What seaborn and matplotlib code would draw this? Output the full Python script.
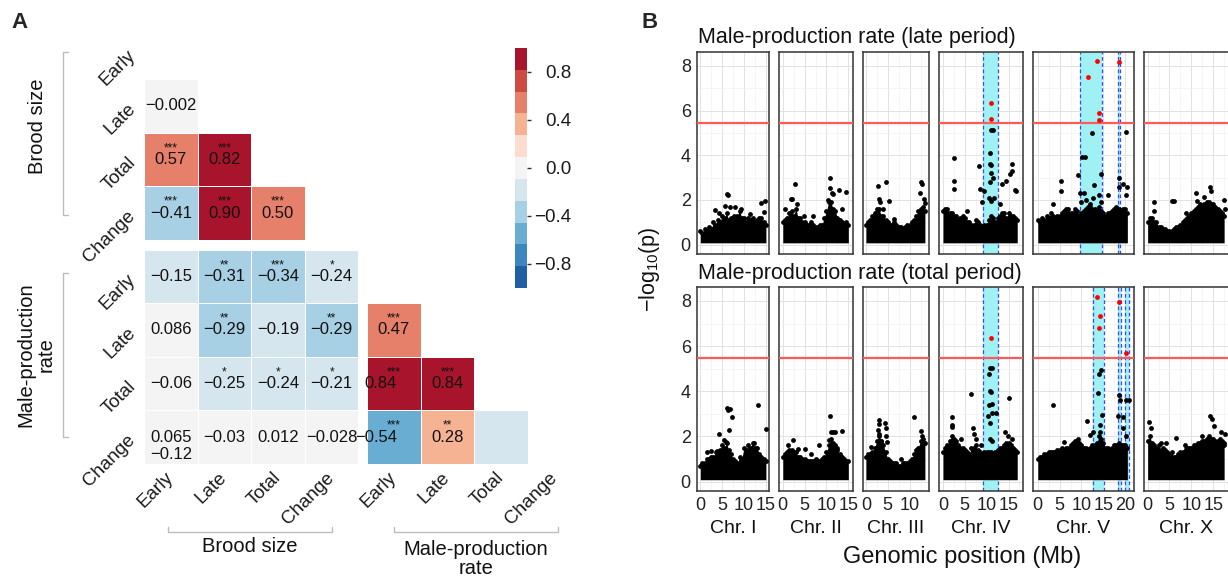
import numpy as np
import pandas as pd
import seaborn as sns
import matplotlib.pyplot as plt
from matplotlib.colors import ListedColormap
from matplotlib.ticker import MultipleLocator

# ---------------- panel A : trait correlations ----------------
traits = ['Early', 'Late', 'Total', 'Change']

brood_brood = [[np.nan, np.nan, np.nan, np.nan],
               [-0.002, np.nan, np.nan, np.nan],
               [0.57, 0.82, np.nan, np.nan],
               [-0.41, 0.90, 0.50, np.nan]]
brood_brood_sig = [['', '', '', ''],
                   ['', '', '', ''],
                   ['***', '***', '', ''],
                   ['***', '***', '***', '']]

mpr_brood = [[-0.15, -0.31, -0.34, -0.24],
             [0.086, -0.29, -0.19, -0.29],
             [-0.06, -0.25, -0.24, -0.21],
             [0.065, -0.03, 0.012, -0.028]]
mpr_brood_sig = [['', '**', '***', '*'],
                 ['', '**', '', '**'],
                 ['', '*', '*', '*'],
                 ['', '', '', '']]

mpr_mpr = [[np.nan, np.nan, np.nan, np.nan],
           [0.47, np.nan, np.nan, np.nan],
           [0.84, 0.84, np.nan, np.nan],
           [-0.54, 0.28, -0.12, np.nan]]
mpr_mpr_sig = [['', '', '', ''],
               ['***', '', '', ''],
               ['***', '***', '', ''],
               ['***', '**', '', '']]

cbar_ticks = [-0.8, -0.4, 0.0, 0.4, 0.8]

# ---------------- panel B : GWAS scans ----------------
chrom_names = ['I', 'II', 'III', 'IV', 'V', 'X']
chrom_len = [15.07, 15.28, 13.78, 17.49, 20.92, 17.72]
threshold = 5.46

# top of the dense cloud of SNPs, one value every 0.5 Mb
late_cloud = [
    [0.6, 0.5, 0.7, 0.6, 0.8, 0.7, 1.0, 0.9, 1.1, 1.0, 1.3, 1.2, 1.4, 1.1, 1.2, 1.0, 1.1, 1.3, 1.5, 1.2,
     1.2, 1.0, 1.2, 1.1, 1.2, 1.0, 1.1, 1.2, 1.2, 1.0, 0.9],
    [1.0, 1.1, 1.2, 1.4, 1.5, 1.3, 1.6, 1.2, 1.2, 1.0, 1.0, 0.9, 0.9, 1.0, 0.9, 0.8, 0.8, 0.9, 0.9, 1.2,
     1.5, 1.9, 1.9, 1.6, 1.5, 1.2, 1.1, 1.0, 0.9, 1.0, 0.9],
    [0.9, 1.0, 1.1, 1.3, 1.4, 1.6, 1.6, 1.3, 1.3, 1.1, 1.0, 0.9, 0.9, 1.0, 0.9, 0.8, 0.8, 0.7, 0.8, 0.9,
     0.9, 1.0, 1.1, 1.3, 1.5, 1.6, 1.7, 1.5],
    [1.5, 1.6, 1.6, 1.4, 1.4, 1.3, 1.3, 1.1, 1.2, 1.3, 1.2, 1.0, 1.0, 0.9, 0.9, 1.1, 1.0, 0.9, 0.8, 0.9,
     0.9, 1.1, 1.3, 1.2, 1.0, 1.2, 1.3, 1.4, 1.4, 1.2, 1.4, 1.3, 1.3, 1.2, 1.1],
    [1.1, 1.0, 1.2, 1.1, 1.3, 1.2, 1.4, 1.3, 1.2, 1.3, 1.3, 1.4, 1.5, 1.6, 1.6, 1.4, 1.4, 1.6, 1.5, 1.3,
     1.4, 1.5, 1.6, 1.7, 1.8, 1.6, 1.6, 1.5, 1.7, 1.5, 1.4, 1.3, 1.4, 1.4, 1.5, 1.6, 1.7, 1.6, 1.5, 1.6,
     1.6, 1.4],
    [1.0, 1.2, 1.2, 1.0, 1.0, 0.8, 0.8, 0.7, 0.7, 0.6, 0.6, 0.6, 0.7, 0.8, 0.8, 0.9, 1.0, 1.1, 1.2, 1.3,
     1.4, 1.5, 1.6, 1.7, 1.8, 1.7, 1.8, 1.9, 1.9, 1.8, 1.8, 1.7, 1.6, 1.5, 1.4, 1.3],
]
total_cloud = [
    [0.7, 0.8, 0.8, 1.0, 1.0, 1.1, 1.1, 1.3, 1.3, 1.4, 1.6, 1.5, 1.7, 1.4, 1.2, 1.0, 0.9, 0.8, 1.1, 1.0,
     1.5, 1.4, 1.6, 1.5, 1.7, 1.5, 1.5, 1.2, 1.1, 1.0, 0.9],
    [1.1, 1.2, 1.3, 1.4, 1.4, 1.3, 1.3, 1.1, 1.1, 1.0, 1.0, 0.9, 0.9, 0.9, 0.9, 1.0, 0.9, 0.9, 1.0, 1.1,
     1.3, 1.6, 1.9, 1.7, 1.6, 1.4, 1.2, 1.1, 1.0, 0.9, 0.9],
    [1.1, 1.2, 1.2, 1.3, 1.5, 1.8, 2.0, 1.8, 1.6, 1.3, 1.0, 0.9, 0.8, 0.8, 0.8, 0.7, 0.7, 0.8, 0.8, 0.8,
     0.9, 1.0, 1.2, 1.4, 1.5, 1.8, 1.9, 1.7],
    [1.3, 1.5, 1.6, 1.8, 2.0, 1.9, 1.8, 1.6, 1.5, 1.5, 1.4, 1.3, 1.2, 1.5, 1.5, 1.6, 1.4, 1.3, 1.2, 1.3,
     1.3, 1.3, 1.3, 1.2, 1.3, 1.4, 1.5, 1.5, 1.6, 1.7, 1.7, 1.6, 1.5, 1.4, 1.3],
    [1.0, 1.1, 1.1, 1.2, 1.2, 1.3, 1.3, 1.3, 1.3, 1.4, 1.4, 1.5, 1.4, 1.5, 1.5, 1.6, 1.7, 1.8, 1.8, 1.7,
     1.6, 1.5, 1.5, 1.4, 1.5, 1.6, 1.6, 1.7, 2.0, 1.9, 1.7, 1.5, 1.5, 1.4, 1.5, 1.6, 1.6, 1.7, 1.6, 1.6,
     1.6, 1.5],
    [1.8, 2.0, 1.7, 1.6, 1.5, 1.6, 1.4, 1.5, 1.4, 1.3, 1.2, 1.3, 1.1, 1.1, 1.2, 1.3, 1.3, 1.6, 1.4, 1.5,
     1.5, 1.6, 1.6, 1.7, 1.7, 1.8, 1.8, 1.9, 2.0, 1.9, 1.9, 1.8, 1.8, 1.9, 1.8, 1.7],
]

# isolated SNPs above the cloud (position Mb, -log10 p)
late_spots = [
    [(6.1, 2.25), (6.4, 2.2), (5.6, 1.75), (6.8, 1.7), (3.4, 1.55), (9.4, 1.6), (13.8, 1.85),
     (14.9, 1.95), (14.5, 1.45), (7.8, 1.3), (11.3, 1.35), (8.0, 1.7), (4.3, 1.4)],
    [(2.8, 2.7), (1.8, 2.05), (2.2, 2.05), (3.3, 1.8), (0.6, 1.6), (10.9, 3.0), (10.7, 2.55),
     (11.2, 2.3), (11.5, 2.25), (12.9, 2.45), (14.5, 2.35), (4.8, 1.3), (7.0, 1.3), (13.5, 1.6), (10.4, 2.0)],
    [(2.7, 2.63), (4.6, 2.8), (2.9, 2.05), (3.2, 1.9), (5.2, 1.96), (4.0, 1.6), (12.6, 2.8),
     (12.8, 2.7), (13.2, 2.05), (13.5, 1.85), (12.4, 2.3), (6.5, 1.15)],
    [(2.6, 3.87), (2.6, 2.85), (2.6, 2.5), (8.3, 3.5), (8.5, 2.5), (10.9, 5.15), (11.4, 5.15),
     (10.7, 4.1), (10.7, 3.6), (11.1, 3.55), (11.0, 3.2), (11.5, 2.97), (10.8, 2.8), (10.6, 2.1),
     (11.6, 2.1), (10.9, 1.95), (15.7, 3.6), (15.7, 3.3), (15.4, 3.15), (16.4, 2.43), (16.8, 2.4),
     (14.4, 2.83), (13.6, 2.7), (9.3, 2.4), (8.9, 1.9), (5.5, 1.5), (13.0, 1.8)],
    [(5.3, 2.86), (5.3, 2.38), (3.4, 1.8), (9.2, 3.1), (10.2, 3.9), (10.8, 3.9), (12.3, 4.98),
     (9.7, 2.3), (14.5, 3.15), (14.0, 2.2), (12.8, 2.68), (12.7, 2.1), (14.5, 1.9), (16.1, 2.2),
     (18.6, 3.0), (18.6, 2.6), (19.5, 2.7), (20.5, 2.6), (20.2, 5.03), (20.2, 2.2), (11.0, 2.0),
     (12.0, 1.7), (10.0, 1.9), (10.6, 2.3)],
    [(1.5, 1.9), (5.5, 1.93), (6.1, 1.93), (11.0, 2.3), (12.9, 2.15), (14.2, 2.6), (14.6, 2.4),
     (17.4, 2.0), (15.9, 1.5), (11.4, 1.93), (8.7, 1.4), (17.8, 1.6), (1.4, 1.5)],
]
total_spots = [
    [(6.0, 3.24), (6.3, 3.15), (6.8, 3.22), (7.3, 2.84), (6.6, 2.28), (4.3, 2.1), (5.5, 1.85),
     (5.9, 1.75), (13.2, 3.4), (15.0, 2.33), (12.2, 1.7), (2.5, 1.35), (1.5, 1.3), (3.8, 1.35)],
    [(2.3, 1.84), (1.3, 1.6), (3.5, 1.45), (5.0, 1.45), (8.4, 1.62), (10.9, 2.9), (11.0, 2.2),
     (11.4, 2.2), (11.9, 2.2), (13.6, 2.24), (10.6, 1.85), (12.5, 1.5), (6.5, 1.2)],
    [(2.9, 2.72), (3.1, 2.55), (2.7, 2.3), (2.9, 2.1), (4.3, 2.6), (4.6, 2.35), (4.5, 2.0),
     (4.9, 1.75), (3.4, 1.8), (10.9, 2.84), (12.6, 2.25), (12.9, 2.0), (13.2, 1.7), (12.3, 1.5),
     (8.0, 1.0), (1.2, 1.55)],
    [(2.0, 2.87), (2.1, 2.5), (2.0, 2.4), (4.2, 1.9), (6.4, 3.9), (6.8, 2.35), (7.1, 2.1), (7.6, 1.9),
     (10.8, 5.05), (11.2, 5.05), (10.5, 4.75), (10.8, 4.0), (11.0, 3.97), (10.6, 3.4), (11.2, 3.44),
     (11.3, 3.05), (12.2, 3.05), (10.4, 2.9), (10.8, 2.6), (10.8, 1.9), (11.2, 1.8), (15.0, 3.68),
     (14.3, 2.2), (14.8, 2.0), (15.8, 1.9), (8.8, 1.6)],
    [(3.4, 3.4), (11.2, 2.69), (13.7, 3.93), (14.0, 4.75), (14.4, 4.95), (14.3, 2.5), (14.6, 2.97),
     (14.2, 2.2), (11.9, 2.05), (18.6, 3.83), (18.9, 3.6), (19.4, 2.84), (20.8, 3.6), (20.2, 3.6),
     (18.3, 2.9), (19.5, 2.35), (20.1, 2.0), (9.2, 1.9), (6.0, 1.75), (12.6, 2.2)],
    [(0.2, 2.65), (0.8, 2.35), (6.4, 1.95), (9.1, 1.5), (14.2, 2.9), (14.8, 2.75), (15.2, 2.45),
     (16.7, 2.2), (17.6, 2.1), (17.4, 1.6), (3.0, 1.7), (4.3, 1.7), (12.5, 2.0)],
]

# SNPs above the genome-wide threshold
late_sig_chr = ['IV', 'IV', 'V', 'V', 'V', 'V', 'V']
late_sig_pos = [10.9, 10.9, 13.6, 11.4, 13.9, 14.1, 18.6]
late_sig_val = [6.32, 5.61, 8.21, 7.49, 5.91, 5.58, 8.18]
total_sig_chr = ['IV', 'V', 'V', 'V', 'V', 'V']
total_sig_pos = [10.9, 13.6, 14.2, 13.9, 18.6, 20.2]
total_sig_val = [6.35, 8.18, 7.35, 6.81, 7.96, 5.69]

# QTL intervals
late_band_chr = ['IV', 'V', 'V']
late_band_start = [9.05, 9.55, 18.3]
late_band_end = [12.7, 14.77, 18.9]
total_band_chr = ['IV', 'V', 'V', 'V']
total_band_start = [9.05, 12.65, 18.3, 19.9]
total_band_end = [12.7, 15.1, 19.0, 20.8]

# ---------------- style ----------------
sns.set_theme(style='white')
plt.rcParams['font.family'] = ['Liberation Sans', 'DejaVu Sans']
plt.rcParams['mathtext.fontset'] = 'custom'
plt.rcParams['mathtext.rm'] = 'Liberation Sans'
plt.rcParams['mathtext.default'] = 'regular'

W, H = 1228, 577
fig = plt.figure(figsize=(W / 100, H / 100), dpi=100)
fig.patch.set_facecolor('white')


def px_box(x0, y0, x1, y1):
    return [x0 / W, 1 - y1 / H, (x1 - x0) / W, (y1 - y0) / H]


cmap = ListedColormap(['#1f5fa4', '#3c87be', '#6aadd2', '#a8d0e4', '#d6e6ef', '#f4f4f4',
                       '#fbdccd', '#f6b394', '#e6806a', '#cc4c44', '#a8142b'])


def fmt(v):
    s = f'{v:.2f}' if abs(v) >= 0.1 else f'{v:g}'
    return s.replace('-', '\u2212')


def corr_block(ax, values, sig, show_x, show_y, cax=None, shift=None, skip=()):
    df = pd.DataFrame(values, index=traits, columns=traits)
    sns.heatmap(df, ax=ax, cmap=cmap, vmin=-1, vmax=1, cbar=cax is not None, cbar_ax=cax,
                cbar_kws={'ticks': cbar_ticks}, linewidths=0.4, linecolor='white',
                xticklabels=traits if show_x else False, yticklabels=traits if show_y else False)
    shift = shift or {}
    for i in range(4):
        for j in range(4):
            v = values[i][j]
            if np.isnan(v) or (i, j) in skip:
                continue
            dx = shift.get((i, j), 0)
            ax.text(j + 0.5 + dx, i + 0.5, fmt(v), ha='center', va='center', fontsize=12, color='#111111')
            if sig[i][j]:
                ax.text(j + 0.5, i + 0.29, sig[i][j], ha='center', va='center', fontsize=8.5, color='#111111')
    ax.tick_params(length=0, pad=8)
    if show_y:
        ax.set_yticklabels(traits, rotation=45, ha='right', va='center', rotation_mode='anchor',
                           fontsize=13.5, color='#1a1a1a')
    if show_x:
        ax.set_xticklabels(traits, rotation=45, ha='right', va='center', rotation_mode='anchor',
                           fontsize=13.5, color='#1a1a1a')
    ax.set_xlabel('')
    ax.set_ylabel('')


cell = 53.6
ax_tl = fig.add_axes(px_box(144, 25.5, 144 + 4 * cell, 25.5 + 4 * cell))
ax_bl = fig.add_axes(px_box(144, 249.5, 144 + 4 * cell, 249.5 + 4 * cell))
ax_br = fig.add_axes(px_box(367, 249.5, 367 + 4 * cell, 249.5 + 4 * cell))
cax = fig.add_axes(px_box(515, 48, 527, 288))

corr_block(ax_tl, brood_brood, brood_brood_sig, False, True, cax=cax)
corr_block(ax_bl, mpr_brood, mpr_brood_sig, True, True)
corr_block(ax_br, mpr_mpr, mpr_mpr_sig, True, False,
           shift={(2, 0): -0.24, (3, 0): -0.32}, skip=[(3, 2)])
# the (Change, Total) value of the male-production block is printed below the 0.065 cell
ax_bl.text(0.5, 3.5 + 0.33, fmt(mpr_mpr[3][2]), ha='center', va='center', fontsize=12, color='#111111')

cb = ax_tl.collections[0].colorbar
cb.outline.set_visible(False)
cb.set_ticklabels([f'{t:.1f}'.replace('-', '\u2212') for t in cbar_ticks])
cax.tick_params(length=3, width=1, color='#333333', labelsize=13.5, pad=29, labelcolor='#1a1a1a')
for t in cax.get_yticklabels():
    t.set_ha('right')

# ---------------- panel B ----------------
rows = [
    (52, 254, late_cloud, late_spots, (late_sig_chr, late_sig_pos, late_sig_val),
     (late_band_chr, late_band_start, late_band_end)),
    (287, 491, total_cloud, total_spots, (total_sig_chr, total_sig_pos, total_sig_val),
     (total_band_chr, total_band_start, total_band_end)),
]
mb_px = 4.37
for r, (top, bottom, cloud, spots, sig, bands) in enumerate(rows):
    x0 = 697
    for c, name in enumerate(chrom_names):
        L = chrom_len[c]
        lo, hi = -0.05 * L, 1.05 * L
        w = (hi - lo) * mb_px
        ax = fig.add_axes(px_box(x0, top, x0 + w, bottom))
        x0 += w + 10
        ax.set_xlim(lo, hi)
        ax.set_ylim(-0.42, 8.62)
        ax.set_facecolor('white')
        ax.xaxis.set_major_locator(MultipleLocator(5))
        ax.xaxis.set_minor_locator(MultipleLocator(2.5))
        ax.yaxis.set_major_locator(MultipleLocator(2))
        ax.yaxis.set_minor_locator(MultipleLocator(1))
        ax.grid(which='major', color='#e2e2e2', lw=0.7)
        ax.grid(which='minor', color='#f1f1f1', lw=0.5)
        ax.set_axisbelow(True)
        for sp in ax.spines.values():
            sp.set_color('#333333')
            sp.set_linewidth(1.1)

        for bc, b0, b1 in zip(*bands):
            if bc == name:
                ax.axvspan(b0, b1, color='#a0f1f3', lw=0, zorder=1)
                for b in (b0, b1):
                    ax.axvline(b, color='#2f4cff', lw=0.9, ls=(0, (3, 2)), zorder=1.5)

        top_vals = cloud[c]
        pos = np.minimum(np.arange(len(top_vals)) * 0.5, L)
        ax.fill_between(pos, 0.08, top_vals, color='black', lw=0, zorder=2)
        sx = list(pos) + [p for p, _ in spots[c]]
        sy = list(top_vals) + [v for _, v in spots[c]]
        sns.scatterplot(x=sx, y=sy, ax=ax, color='black', s=12, linewidth=0, zorder=3, legend=False)

        ax.axhline(threshold, color='#ff5a5a', lw=1.6, zorder=4)

        hx = [p for ch, p in zip(sig[0], sig[1]) if ch == name]
        hy = [v for ch, v in zip(sig[0], sig[2]) if ch == name]
        if hx:
            sns.scatterplot(x=hx, y=hy, ax=ax, color='#ff0000', s=12, linewidth=0, zorder=5, legend=False)

        ax.tick_params(which='both', length=0)
        ax.tick_params(which='major', length=3, width=0.9, color='#333333', labelsize=13,
                       labelcolor='#222222', pad=1.5)
        if c != 0:
            ax.tick_params(axis='y', which='major', length=0, labelleft=False)
        if r == 0:
            ax.tick_params(axis='x', which='major', length=0, labelbottom=False)
        else:
            ax.set_xlabel(f'Chr. {name}', fontsize=14, labelpad=4, color='#111111')

fig.text(698 / W, 1 - 38 / H, 'Male-production rate (late period)', fontsize=15.5, va='center', color='#111111')
fig.text(698 / W, 1 - 274 / H, 'Male-production rate (total period)', fontsize=15.5, va='center', color='#111111')
fig.text(962 / W, 1 - 557 / H, 'Genomic position (Mb)', fontsize=17, ha='center', va='center', color='#111111')
fig.text(650 / W, 1 - 269 / H, '\u2212log$_{10}$(p)', fontsize=15.5, rotation=90, ha='center', va='center',
         color='#111111')

# ---------------- labels and brackets (pixel overlay) ----------------
ov = fig.add_axes([0, 0, 1, 1])
ov.set_xlim(0, W)
ov.set_ylim(H, 0)
ov.axis('off')
br = dict(color='#bdbdbd', lw=1)
ov.plot([68, 63, 63, 68], [52, 52, 215, 215], **br)
ov.plot([68, 63, 63, 68], [273, 273, 437, 437], **br)
ov.plot([168, 168, 332, 332], [527, 532, 532, 527], **br)
ov.plot([394, 394, 558, 558], [527, 532, 532, 527], **br)
ov.text(37.5, 126, 'Brood size', rotation=90, ha='center', va='center', fontsize=14.5, color='#111111')
ov.text(36, 355, 'Male-production\nrate', rotation=90, ha='center', va='center', fontsize=14.5,
        linespacing=1.05, color='#111111')
ov.text(250, 547, 'Brood size', ha='center', va='center', fontsize=14.5, color='#111111')
ov.text(476, 559, 'Male-production\nrate', ha='center', va='center', fontsize=14.5,
        linespacing=1.0, color='#111111')
ov.text(19, 22, 'A', ha='center', va='center', fontsize=16, fontweight='bold')
ov.text(650, 22, 'B', ha='center', va='center', fontsize=16, fontweight='bold')

fig.savefig('out.png', dpi=100, facecolor='white')
